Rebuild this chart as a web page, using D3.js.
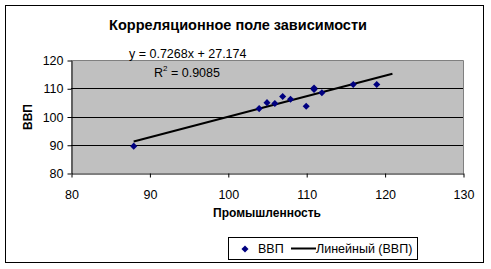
<!DOCTYPE html>
<html><head><meta charset="utf-8">
<script src="https://cdn.jsdelivr.net/npm/d3@7"></script>
<style>body{margin:0;background:#fff}svg{display:block;font-family:Arial,"Liberation Sans",sans-serif}</style>
</head><body>
<script>
const industry = [88, 104, 105, 106, 107, 108, 110, 111, 111, 112, 116, 119];
const gdp      = [89.5, 102.8, 104.9, 104.6, 107.1, 106.1, 103.6, 110.1, 109.6, 108.4, 111.3, 111.3];
const xTicks = [80, 90, 100, 110, 120, 130];
const yTicks = [80, 90, 100, 110, 120];
const slope = 0.7268, intercept = 27.174;
const trendRange = [88, 121];
const title = "Корреляционное поле зависимости";
const eqText = "y = 0.7268x + 27.174";
const r2Text = "0.9085";

const W = 491, H = 269;
const svg = d3.select("body").append("svg").attr("width", W).attr("height", H);
svg.append("rect").attr("x", 5.5).attr("y", 5.5).attr("width", 478).attr("height", 257)
  .attr("fill", "#fff").attr("stroke", "#000").attr("stroke-width", 1);

const L = 71, R = 463, T = 60, B = 173;
const x = d3.scaleLinear().domain([80, 130]).range([L, R]);
const y = d3.scaleLinear().domain([80, 120]).range([B, T]);

svg.append("rect").attr("x", L).attr("y", T).attr("width", R - L).attr("height", B - T)
  .attr("fill", "#c0c0c0");
svg.append("g").selectAll("line").data(yTicks.filter(v => v > 80 && v < 120)).join("line")
  .attr("x1", L).attr("x2", R).attr("y1", d => Math.round(y(d)) + 0.5).attr("y2", d => Math.round(y(d)) + 0.5)
  .attr("stroke", "#000");
svg.append("path").attr("d", `M${L},${T + 0.5}H${R + 0.5}V${B}`).attr("fill", "none").attr("stroke", "#808080");

const xAxis = d3.axisBottom(x).tickValues(xTicks).tickSize(4).tickSizeOuter(0).tickFormat(d3.format("d"));
const gx = svg.append("g").attr("transform", `translate(0.5,${B + 0.5})`).call(xAxis);
const yAxis = d3.axisLeft(y).tickValues(yTicks).tickSize(4).tickSizeOuter(0).tickFormat(d3.format("d"));
const gy = svg.append("g").attr("transform", `translate(${L + 0.5},0.5)`).call(yAxis);
[gx, gy].forEach(g => {
  g.selectAll("path,line").attr("stroke", "#000");
  g.selectAll("text").attr("font-size", 12.5).attr("fill", "#000").attr("font-family", "Arial, Liberation Sans, sans-serif");
});
gx.selectAll("text").attr("dy", "1.45em");
gy.selectAll("text").attr("x", -8);

svg.append("line")
  .attr("x1", x(trendRange[0])).attr("y1", y(slope * trendRange[0] + intercept))
  .attr("x2", x(trendRange[1])).attr("y2", y(slope * trendRange[1] + intercept))
  .attr("stroke", "#000").attr("stroke-width", 2);

const diamond = d3.symbol().type(d3.symbolDiamond2).size(32);
svg.append("g").selectAll("path").data(industry.map((v, i) => [v, gdp[i]])).join("path")
  .attr("d", diamond).attr("transform", d => `translate(${x(d[0])},${y(d[1])})`)
  .attr("fill", "#000080");

svg.append("text").attr("x", 238).attr("y", 30).attr("text-anchor", "middle")
  .attr("font-size", 14.5).attr("font-weight", "bold").text(title);
svg.append("text").attr("x", 129).attr("y", 58).attr("font-size", 12.5).text(eqText);
const r2 = svg.append("text").attr("x", 154).attr("y", 77).attr("font-size", 12.5);
r2.append("tspan").text("R");
r2.append("tspan").attr("font-size", 8).attr("dy", -6).text("2");
r2.append("tspan").attr("dy", 6).text(" = " + r2Text);

svg.append("text").attr("x", 267).attr("y", 217).attr("text-anchor", "middle")
  .attr("font-size", 12).attr("font-weight", "bold").text("Промышленность");
svg.append("text").attr("transform", "translate(32,117) rotate(-90)").attr("text-anchor", "middle")
  .attr("font-size", 12).attr("font-weight", "bold").text("ВВП");

const lg = svg.append("g");
lg.append("rect").attr("x", 228.5).attr("y", 237.5).attr("width", 189).attr("height", 22)
  .attr("fill", "#fff").attr("stroke", "#000");
lg.append("path").attr("d", diamond).attr("transform", "translate(245,249)").attr("fill", "#000080");
lg.append("text").attr("x", 258).attr("y", 253).attr("font-size", 12.5).text("ВВП");
lg.append("line").attr("x1", 291).attr("x2", 316).attr("y1", 248.5).attr("y2", 248.5).attr("stroke", "#000").attr("stroke-width", 2);
lg.append("text").attr("x", 316).attr("y", 253).attr("font-size", 12.5).text("Линейный (ВВП)");
</script>
</body></html>
